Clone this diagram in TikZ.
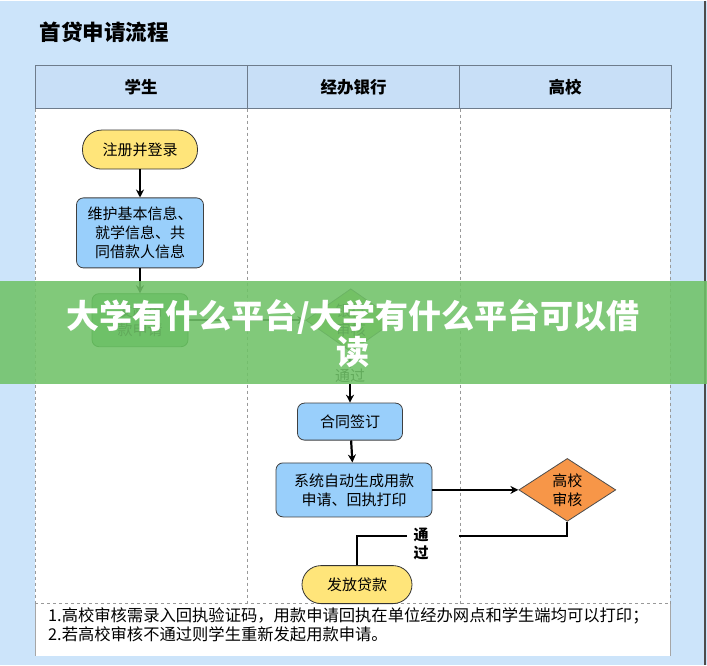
\documentclass[tikz,border=0pt]{standalone}
\usepackage{fontspec}
\setmainfont{Noto Sans CJK SC}
\usetikzlibrary{shapes.geometric, arrows.meta, positioning}
\definecolor{pagebg}{RGB}{204,228,250}
\definecolor{headbg}{RGB}{200,223,247}
\definecolor{framegray}{RGB}{110,124,140}
\definecolor{termyellow}{RGB}{255,229,122}
\definecolor{procblue}{RGB}{153,207,251}
\definecolor{stepgreen}{RGB}{96,186,110}
\definecolor{checkgreen}{RGB}{140,192,80}
\definecolor{checkorange}{RGB}{247,150,72}
\definecolor{bannergreen}{RGB}{112,194,104}

\begin{document}
\begin{tikzpicture}[
			x=1pt, y=-1pt,
			node distance=25pt and 25pt,
			lanehead/.style={rectangle, draw=framegray, thick, fill=headbg, minimum height=43pt, minimum width=212pt, font=\fontsize{16.5}{18}\selectfont\bfseries},
			terminal/.style={rectangle, rounded corners=19pt, draw=black!80, thick, fill=termyellow, minimum height=39pt, align=center, font=\fontsize{15}{19}\selectfont},
			process/.style={rectangle, rounded corners=7pt, draw=black!75, thick, fill=procblue, align=center, font=\fontsize{15}{19}\selectfont},
			decision/.style={diamond, draw=black!70, thick, inner sep=0pt, align=center, font=\fontsize{15}{19}\selectfont},
			tag/.style={inner sep=1pt, align=center, font=\fontsize{15}{18}\selectfont\bfseries},
			arr/.style={-{Stealth[length=8pt, width=8pt]}, line width=2.2pt},
			link/.style={line width=2.2pt},
			lanesep/.style={draw=black!40, dashed, thin}
			]
			% page and swimlane frame
			\fill[pagebg] (0,0) rectangle (707,664);
			\fill[white] (35,108) rectangle (670,655);
			\draw[black!70, line width=1.2pt] (705,0) -- (705,664);
			\node[anchor=west, font=\fontsize{21.5}{23}\selectfont\bfseries] (title) at (36,32) {首贷申请流程};
			\node[lanehead] (headA) at (141,86.5) {学生};
			\node[lanehead] (headB) at (353.5,86.5) {经办银行};
			\node[lanehead] (headC) at (565,86.5) {高校};
			\draw[lanesep] (35,108) -- (35,603);
			\draw[lanesep] (247,108) -- (247,603);
			\draw[lanesep] (460,108) -- (460,603);
			\draw[lanesep] (670,108) -- (670,603);
			\draw[lanesep] (35,603) -- (670,603);
			\draw[black!35] (35,603) -- (35,655);
			\draw[black!35] (670,603) -- (670,655);
			% flow
			\node[terminal, minimum width=115pt] (login) at (140,149) {注册并登录};
			\node[process, minimum width=127pt, minimum height=70pt, below=28pt of login] (info) {维护基本信息、\\就学信息、共\\同借款人信息};
			\node[process, fill=stepgreen, draw=green!35!black, minimum width=96pt, minimum height=53pt, below=25pt of info] (apply) {发起用\\款申请};
			\node[decision, fill=checkgreen, minimum width=90pt, minimum height=60pt, right=117pt of apply] (bankchk) {银行\\审核};
			\node[tag, font=\fontsize{15}{18}\selectfont] (bankpass) at (350,375) {通过};
			\node[process, minimum width=105pt, minimum height=37pt] (sign) at (350,421) {合同签订};
			\node[process, minimum width=156pt, minimum height=54pt, below=22pt of sign, xshift=4pt] (gen) {系统自动生成用款\\申请、回执打印};
			\node[decision, fill=checkorange, minimum width=97pt, minimum height=58pt, right=86pt of gen] (schoolchk) {高校\\审核};
			\node[tag] (schoolpass) at (421,543) {通\\过};
			\node[terminal, minimum width=110pt, minimum height=38pt] (loan) at (357,584) {发放贷款};
			\coordinate (gapR) at (459,535);
			\coordinate (gapL) at (407,535);
			\draw[arr] (login) -- (info);
			\draw[arr] (info) -- (apply);
			\draw[arr] (apply) -- (bankchk);
			\draw[link] (bankchk) -- (bankpass);
			\draw[arr] (bankpass) -- (sign);
			\draw[arr] (sign) -- (gen);
			\draw[arr] (gen) -- (schoolchk);
			\draw[link] (schoolchk.south) |- (gapR);
			\draw[link] (gapL) -| (loan.north);
			% notes
			\node[anchor=north west, align=left, inner sep=0pt, font=\fontsize{16.3}{18.5}\selectfont] (notes) at (48,607) {1.高校审核需录入回执验证码，用款申请回执在单位经办网点和学生端均可以打印；\\2.若高校审核不通过则学生重新发起用款申请。};
			% banner
			\fill[bannergreen, opacity=0.88] (0,280) rectangle (707,383);
			\node[align=center, text=white, font=\fontsize{33}{36}\selectfont\bfseries] (banner) at (353,333) {大学有什么平台/大学有什么平台可以借\\读};
			\useasboundingbox (0,0) rectangle (707,664);
		\end{tikzpicture}
\end{document}
